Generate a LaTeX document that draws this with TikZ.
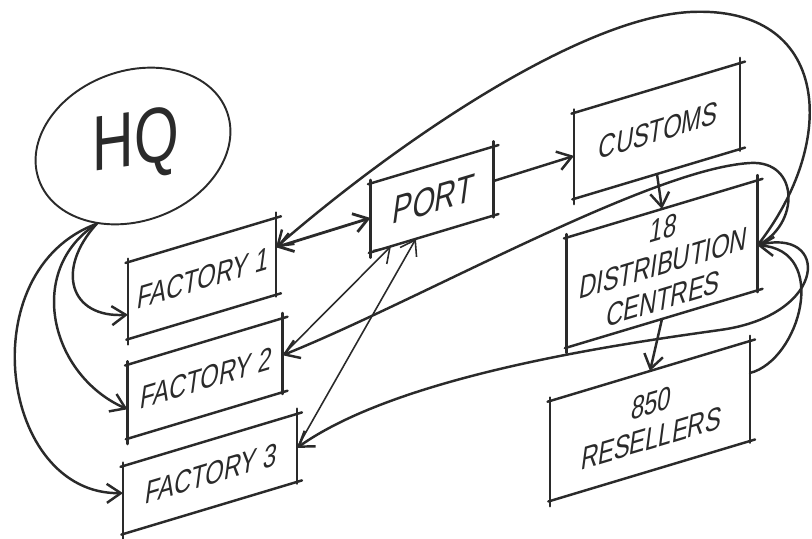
\documentclass[tikz,border=0pt]{standalone}
\usepackage{fontspec}
\usetikzlibrary{arrows.meta,shapes.geometric}
\newfontfamily\handfont[FakeStretch=0.75,FakeSlant=0.14]{Liberation Sans}
\definecolor{ink}{HTML}{2A2A2A}

\begin{document}
\begin{tikzpicture}[x=0.2cm,y=0.2cm,color=ink,line width=1.4pt,
  line cap=round,line join=round,
  >={Straight Barb[length=2.8mm,width=3.8mm]},
  sketchbox/.style={yslant=0.3,inner sep=0pt,outer sep=0pt,align=center,
    font=\handfont\fontsize{18}{20}\selectfont},
  thinline/.style={line width=0.9pt}]
\useasboundingbox (0,0) rectangle (81.2,-53.9);
% head office
\node[ellipse,draw,line width=1.1pt,rotate=20,minimum width=4cm,minimum height=3cm,
  inner sep=0pt,font=\handfont\fontsize{44}{44}\selectfont] (hq) at (13.3,-14.6)
  {\rotatebox{-12}{HQ}};
% boxes, slanted like the hand sketch
\node[sketchbox,minimum width=2.96cm,minimum height=1.54cm] (f1) at (20.2,-27.85) {FACTORY 1};
\node[sketchbox,minimum width=3.1cm,minimum height=1.48cm] (f2) at (20.5,-37.85) {FACTORY 2};
\node[sketchbox,minimum width=3.48cm,minimum height=1.36cm] (f3) at (21.0,-47.4) {FACTORY 3};
\node[sketchbox,minimum width=2.46cm,minimum height=1.38cm,
  font=\handfont\fontsize{22}{22}\selectfont] (port) at (43.2,-19.95) {PORT};
\node[sketchbox,minimum width=3.32cm,minimum height=1.72cm] (customs) at (65.7,-13.1) {CUSTOMS};
\node[sketchbox,minimum width=3.82cm,minimum height=2.2cm] (dc) at (66.2,-26.4) {18\\DISTRIBUTION\\CENTRES};
\node[sketchbox,minimum width=4cm,minimum height=2cm] (res) at (65.0,-42.1) {850\\RESELLERS};
% box edges with the corners run over
\foreach \n in {f1,f2,f3,port,customs,dc,res}{
  \draw[shorten <=-1.5pt,shorten >=-3pt] (\n.north west) -- (\n.north east);
  \draw[shorten <=-3pt,shorten >=-1pt] (\n.north east) -- (\n.south east);
  \draw[shorten <=-1pt,shorten >=-3pt] (\n.south west) -- (\n.south east);
  \draw[shorten <=-2pt,shorten >=-3pt] (\n.north west) -- (\n.south west);
}
% hq to the factories
\draw[->] (hq.225) .. controls (5.5,-27) and (7,-31.8) .. ([yshift=-2.8mm]f1.west);
\draw[->] (hq.225) .. controls (2.5,-27) and (5,-37.5) .. ([yshift=-1.5mm]f2.west);
\draw[->] (hq.225) .. controls (-3,-27) and (0,-49.5) .. ([yshift=1.4mm]f3.west);
% factories and port
\draw[<->,line width=1.6pt] ([yshift=1.8mm]f1.east) -- (port.west);
\draw[->,thinline] (f2.east) -- (port.220);
\draw[->,thinline] (f3.east) -- (port.245);
% main chain
\draw[->] (port.east) -- (customs.west);
\draw[->] (customs.south) -- (dc.north);
\draw[->] (dc.south) -- (res.north);
% returns
\draw[->] ([yshift=3.6mm]res.east) .. controls (80,-36) and (83,-25) .. ([yshift=-2mm]dc.east);
\draw[->] ([yshift=-2mm]dc.east) .. controls (84,-14) and (83,-0.5) .. (69,-1.2)
  .. controls (58,-1.8) and (40,-14) .. ([yshift=1.8mm]f1.east);
\draw[->] ([yshift=-2mm]dc.east) .. controls (80,-22.5) and (80,-16) .. (75,-16.3)
  .. controls (65,-16.9) and (42,-30) .. (f2.east);
\draw[->] ([yshift=-2mm]dc.east) .. controls (83,-22.5) and (83,-31.5) .. (72,-33)
  .. controls (62,-34.4) and (40,-37.5) .. (f3.east);
\end{tikzpicture}
\end{document}
